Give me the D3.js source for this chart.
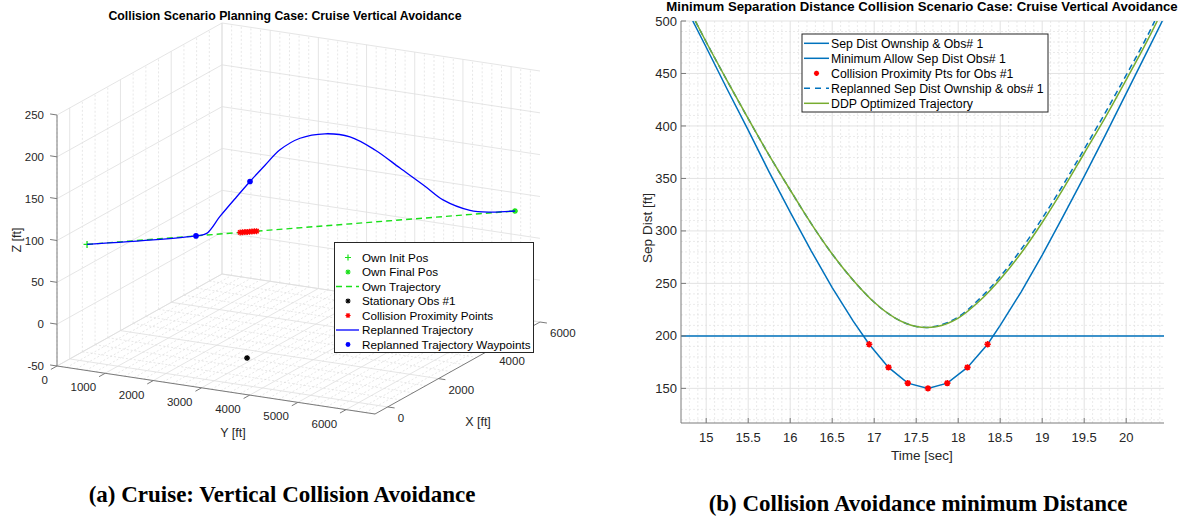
<!DOCTYPE html>
<html><head><meta charset="utf-8">
<script src="https://cdn.jsdelivr.net/npm/d3@7"></script>
<style>
html,body{margin:0;padding:0;background:#fff;}
svg{display:block;font-family:"Liberation Sans",Arial,Helvetica,sans-serif;}
</style></head><body>
<svg id="fig" width="1192" height="519"></svg>
<script>
// ---------- (a) 3-D cruise scenario: positions in ft ----------
const ownInit  = [0, 360, 90];
const ownFinal = [5450, 6370, 90];
const obstacle = [1540, 2870, -50];
const collisionX = [1950, 1980, 2010, 2040, 2070, 2100, 2130, 2160];
const collisionY = [2510, 2543, 2577, 2610, 2643, 2676, 2709, 2742];
const collisionZ = [90, 90, 90, 90, 90, 90, 90, 90];
const replanX = [0, 1388, 1524, 1693, 1906, 2075, 2267, 2457, 2712, 3031, 3349, 3668, 3986, 4304, 4534, 4877, 5132, 5450];
const replanY = [360, 1890, 2041, 2227, 2462, 2649, 2860, 3070, 3351, 3702, 4053, 4405, 4756, 5107, 5360, 5738, 6020, 6370];
const replanZ = [90, 90, 92, 111, 133, 150, 168, 185, 197, 200, 194, 176, 152, 128, 110, 95, 91, 90];
const waypointX = [1388, 2075];
const waypointY = [1890, 2649];
const waypointZ = [90, 150];
const xTickVals = [0, 2000, 4000, 6000];
const yTickVals = [0, 1000, 2000, 3000, 4000, 5000, 6000];
const zTickVals = [-50, 0, 50, 100, 150, 200, 250];

// ---------- (b) separation distance vs time ----------
const sepTime = [14.84, 15.0, 15.25, 15.5, 15.75, 16.0, 16.25, 16.5, 16.75, 16.94, 17.17, 17.40, 17.64, 17.87, 18.11, 18.35, 18.5, 18.75, 19.0, 19.25, 19.5, 19.75, 20.0, 20.25, 20.43];
const sepDist = [500, 475, 435, 396, 356, 318, 281, 246, 214, 192, 170, 155, 150, 155, 170, 192, 210, 242, 277, 314, 352, 391, 431, 471, 500];
const minAllowSep = 200;
const proxTime = [16.94, 17.17, 17.40, 17.64, 17.87, 18.11, 18.35];
const proxDist = [192, 170, 155, 150, 155, 170, 192];
const replanSepTime = [14.87, 15.0, 15.25, 15.5, 15.75, 16.0, 16.25, 16.5, 16.75, 17.0, 17.25, 17.5, 17.62, 17.75, 18.0, 18.25, 18.5, 18.75, 19.0, 19.25, 19.5, 19.75, 20.0, 20.25, 20.34];
const replanSepDist = [500, 480, 443, 407, 372, 339, 307, 278, 253, 232, 217, 209, 208, 209.5, 218, 235, 256.5, 282.5, 312, 344, 378, 412.5, 448.5, 485.5, 500];
const ddpTime = [14.87, 15.0, 15.25, 15.5, 15.75, 16.0, 16.25, 16.5, 16.75, 17.0, 17.25, 17.5, 17.62, 17.75, 18.0, 18.25, 18.5, 18.75, 19.0, 19.25, 19.5, 19.75, 20.0, 20.25, 20.37];
const ddpDist = [500, 480, 443, 407, 372, 339, 307, 278, 253, 232, 217, 209, 208, 209, 217, 233, 254, 279, 308, 340, 374, 408, 444, 481, 500];
const timeTicks = [15, 15.5, 16, 16.5, 17, 17.5, 18, 18.5, 19, 19.5, 20];
const distTicks = [150, 200, 250, 300, 350, 400, 450, 500];

const svg = d3.select("#fig");
const TXT = "#262626";

// marker shapes
function asterisk(r) {
  const d = r * 0.707;
  return `M${-r},0H${r}M0,${-r}V${r}M${-d},${-d}L${d},${d}M${-d},${d}L${d},${-d}`;
}
function plus(r) { return `M${-r},0H${r}M0,${-r}V${r}`; }

// =====================================================================
// Panel (a): oblique 3-D view built from three linear scales
// =====================================================================
const A = svg.append("g");
const fx = d3.scaleLinear().domain([-500, 6000]).range([0, 1]);
const fy = d3.scaleLinear().domain([0, 6600]).range([0, 1]);
const zPix = d3.scaleLinear().domain([-50, 250]).range([366, 115]);
const ORIGIN_X = 57;
const VX = [165, -92], VY = [318, 48];
function proj(X, Y, Z) {
  const a = fx(X), b = fy(Y);
  return [ORIGIN_X + a * VX[0] + b * VY[0], zPix(Z) + a * VX[1] + b * VY[1]];
}
const [X0, X1] = fx.domain(), [Y0, Y1] = fy.domain(), [Z0, Z1] = zPix.domain();

function seg(g, p, q) {
  return g.append("line").attr("x1", p[0]).attr("y1", p[1]).attr("x2", q[0]).attr("y2", q[1]);
}

const gridMinor = A.append("g").attr("stroke", "#d6d6d6").attr("stroke-width", 0.6).attr("stroke-dasharray", "2,2");
const gridMajor = A.append("g").attr("stroke", "#dedede").attr("stroke-width", 0.8);

const xMinor = d3.range(-500, 6001, 500).filter(v => !xTickVals.includes(v));
const yMinor = d3.range(200, 6600, 200).filter(v => !yTickVals.includes(v));

// floor (Z = min)
xMinor.forEach(x => seg(gridMinor, proj(x, Y0, Z0), proj(x, Y1, Z0)));
yMinor.forEach(y => seg(gridMinor, proj(X0, y, Z0), proj(X1, y, Z0)));
xTickVals.forEach(x => seg(gridMajor, proj(x, Y0, Z0), proj(x, Y1, Z0)));
yTickVals.forEach(y => seg(gridMajor, proj(X0, y, Z0), proj(X1, y, Z0)));
// back wall Y = min
xMinor.forEach(x => seg(gridMinor, proj(x, Y0, Z0), proj(x, Y0, Z1)));
xTickVals.forEach(x => seg(gridMajor, proj(x, Y0, Z0), proj(x, Y0, Z1)));
zTickVals.forEach(z => seg(gridMajor, proj(X0, Y0, z), proj(X1, Y0, z)));
// back wall X = max
yMinor.forEach(y => seg(gridMinor, proj(X1, y, Z0), proj(X1, y, Z1)));
yTickVals.forEach(y => seg(gridMajor, proj(X1, y, Z0), proj(X1, y, Z1)));
zTickVals.forEach(z => seg(gridMajor, proj(X1, Y0, z), proj(X1, Y1, z)));

// axis lines and ticks
const axA = A.append("g").attr("stroke", "#7a7a7a").attr("stroke-width", 1);
seg(axA, proj(X0, Y0, Z0), proj(X0, Y0, Z1));
seg(axA, proj(X0, Y0, Z0), proj(X0, Y1, Z0));
seg(axA, proj(X0, Y1, Z0), proj(X1, Y1, Z0));
const nVX = [VX[0] / Math.hypot(...VX), VX[1] / Math.hypot(...VX)];
const nVY = [VY[0] / Math.hypot(...VY), VY[1] / Math.hypot(...VY)];
const TL = 7;
zTickVals.forEach(z => { const p = proj(X0, Y0, z); seg(axA, p, [p[0] - TL * nVY[0], p[1] - TL * nVY[1]]); });
yTickVals.forEach(y => { const p = proj(X0, y, Z0); seg(axA, p, [p[0] - TL * nVX[0], p[1] - TL * nVX[1]]); });
xTickVals.forEach(x => { const p = proj(x, Y1, Z0); seg(axA, p, [p[0] + TL * nVY[0], p[1] + TL * nVY[1]]); });

const labA = A.append("g").attr("fill", TXT).attr("font-size", 11.5);
zTickVals.forEach(z => {
  const p = proj(X0, Y0, z);
  labA.append("text").attr("x", 44).attr("y", p[1]).attr("dy", "0.35em").attr("text-anchor", "end").text(z);
});
yTickVals.forEach(y => {
  const p = proj(X0, y, Z0);
  labA.append("text").attr("x", p[0] - 9).attr("y", p[1] + 14).attr("dy", "0.35em").attr("text-anchor", "end").text(y);
});
xTickVals.forEach(x => {
  const p = proj(x, Y1, Z0);
  labA.append("text").attr("x", p[0] + 10).attr("y", p[1] + 11).attr("dy", "0.35em").attr("text-anchor", "start").text(x);
});
labA.append("text").attr("transform", "translate(17,240) rotate(-90)").attr("text-anchor", "middle").attr("dy", "0.35em").attr("font-size", 12.5).text("Z [ft]");
labA.append("text").attr("x", 233).attr("y", 433).attr("text-anchor", "middle").attr("dy", "0.35em").attr("font-size", 12.5).text("Y [ft]");
labA.append("text").attr("x", 478).attr("y", 422).attr("text-anchor", "middle").attr("dy", "0.35em").attr("font-size", 12.5).text("X [ft]");
A.append("text").attr("x", 285).attr("y", 16).attr("dy", "0.35em").attr("text-anchor", "middle")
  .attr("font-weight", "bold").attr("font-size", 12.3).attr("fill", "#000")
  .text("Collision Scenario Planning Case: Cruise Vertical Avoidance");

// data marks
const GREEN = "#19e019", BLUE = "#0000ff";
const pInit = proj(...ownInit), pFinal = proj(...ownFinal);
A.append("line").attr("x1", pInit[0]).attr("y1", pInit[1]).attr("x2", pFinal[0]).attr("y2", pFinal[1])
  .attr("stroke", GREEN).attr("stroke-width", 1.4).attr("stroke-dasharray", "6,4");
A.append("path").attr("transform", `translate(${pInit})`).attr("d", plus(3.5)).attr("stroke", GREEN).attr("stroke-width", 1.3);
A.append("path").attr("transform", `translate(${pFinal})`).attr("d", asterisk(3)).attr("stroke", GREEN).attr("stroke-width", 1.3);
const pObs = proj(...obstacle);
A.append("path").attr("transform", `translate(${pObs})`).attr("d", asterisk(3)).attr("stroke", "#000").attr("stroke-width", 1.3);
collisionX.forEach((x, i) => {
  const p = proj(x, collisionY[i], collisionZ[i]);
  A.append("path").attr("transform", `translate(${p})`).attr("d", asterisk(3)).attr("stroke", "#ff0000").attr("stroke-width", 1.3);
});
const replanPts = replanX.map((x, i) => proj(x, replanY[i], replanZ[i]));
A.append("path").attr("d", d3.line().curve(d3.curveCatmullRom.alpha(0.5))(replanPts))
  .attr("fill", "none").attr("stroke", BLUE).attr("stroke-width", 1.3);
waypointX.forEach((x, i) => {
  const p = proj(x, waypointY[i], waypointZ[i]);
  A.append("circle").attr("cx", p[0]).attr("cy", p[1]).attr("r", 2.8).attr("fill", BLUE);
});

// legend (a)
const legA = A.append("g").attr("font-size", 11.7).attr("fill", "#000");
legA.append("rect").attr("x", 334.5).attr("y", 242.5).attr("width", 199).attr("height", 110)
  .attr("fill", "#fff").attr("stroke", "#262626").attr("stroke-width", 1);
const legAItems = [
  {label: "Own Init Pos", kind: "plus", color: GREEN},
  {label: "Own Final Pos", kind: "ast", color: GREEN},
  {label: "Own Trajectory", kind: "dash", color: GREEN},
  {label: "Stationary Obs #1", kind: "ast", color: "#000"},
  {label: "Collision Proximity Points", kind: "ast", color: "#ff0000"},
  {label: "Replanned Trajectory", kind: "line", color: BLUE},
  {label: "Replanned Trajectory Waypoints", kind: "dot", color: BLUE}
];
legAItems.forEach((d, i) => {
  const y = 257.5 + i * 14.5;
  if (d.kind === "plus") legA.append("path").attr("transform", `translate(348,${y})`).attr("d", plus(3)).attr("stroke", d.color).attr("stroke-width", 1.2);
  if (d.kind === "ast") legA.append("path").attr("transform", `translate(348,${y})`).attr("d", asterisk(2.6)).attr("stroke", d.color).attr("stroke-width", 1.2);
  if (d.kind === "dot") legA.append("circle").attr("cx", 348).attr("cy", y).attr("r", 2.4).attr("fill", d.color);
  if (d.kind === "dash") legA.append("line").attr("x1", 336).attr("x2", 359).attr("y1", y).attr("y2", y).attr("stroke", d.color).attr("stroke-width", 1.3).attr("stroke-dasharray", "6,4");
  if (d.kind === "line") legA.append("line").attr("x1", 336).attr("x2", 359).attr("y1", y).attr("y2", y).attr("stroke", d.color).attr("stroke-width", 1.3);
  legA.append("text").attr("x", 362).attr("y", y).attr("dy", "0.35em").text(d.label);
});

// =====================================================================
// Panel (b): separation distance
// =====================================================================
const B = svg.append("g");
const L = 681, R = 1164, T = 21, Bt = 423;
const tx = d3.scaleLinear().domain([14.70, 20.45]).range([L, R]);
const dy = d3.scaleLinear().domain([117, 500]).range([Bt, T]);

const gMin = B.append("g").attr("stroke", "#dcdcdc").attr("stroke-width", 0.6).attr("stroke-dasharray", "2,2");
d3.range(148, 205).map(v => v / 10).filter(v => Math.abs(v * 2 - Math.round(v * 2)) > 1e-6)
  .forEach(t => seg(gMin, [tx(t), T], [tx(t), Bt]));
d3.range(120, 500, 10).filter(v => v % 50 !== 0)
  .forEach(v => seg(gMin, [L, dy(v)], [R, dy(v)]));
const gMaj = B.append("g").attr("stroke", "#e0e0e0").attr("stroke-width", 0.9);
timeTicks.forEach(t => seg(gMaj, [tx(t), T], [tx(t), Bt]));
distTicks.forEach(v => seg(gMaj, [L, dy(v)], [R, dy(v)]));

B.append("defs").append("clipPath").attr("id", "plotB").append("rect")
  .attr("x", L).attr("y", T).attr("width", R - L).attr("height", Bt - T);
const plotB = B.append("g").attr("clip-path", "url(#plotB)");
const lineB = (xs, ys, curve) => d3.line().x((d, i) => tx(xs[i])).y((d, i) => dy(ys[i])).curve(curve)(xs);

const C_BLUE = "#0072BD", C_GREEN = "#77AC30";
plotB.append("path").attr("d", lineB(sepTime, sepDist, d3.curveLinear))
  .attr("fill", "none").attr("stroke", C_BLUE).attr("stroke-width", 1.5);
plotB.append("line").attr("x1", L).attr("x2", R).attr("y1", dy(minAllowSep)).attr("y2", dy(minAllowSep))
  .attr("stroke", C_BLUE).attr("stroke-width", 1.5);
proxTime.forEach((t, i) => {
  plotB.append("path").attr("transform", `translate(${tx(t)},${dy(proxDist[i])})`).attr("d", asterisk(3.2))
    .attr("stroke", "#ff0000").attr("stroke-width", 1.6);
});
plotB.append("path").attr("d", lineB(replanSepTime, replanSepDist, d3.curveMonotoneX))
  .attr("fill", "none").attr("stroke", C_BLUE).attr("stroke-width", 1.5).attr("stroke-dasharray", "6,4");
plotB.append("path").attr("d", lineB(ddpTime, ddpDist, d3.curveMonotoneX))
  .attr("fill", "none").attr("stroke", C_GREEN).attr("stroke-width", 1.5);

// axes (b)
const axB = B.append("g").attr("stroke", "#7a7a7a").attr("stroke-width", 1);
seg(axB, [L, T], [L, Bt]);
seg(axB, [L, Bt], [R, Bt]);
timeTicks.forEach(t => seg(axB, [tx(t), Bt], [tx(t), Bt - 5]));
distTicks.forEach(v => seg(axB, [L, dy(v)], [L + 5, dy(v)]));
const labB = B.append("g").attr("fill", TXT).attr("font-size", 13);
distTicks.forEach(v => labB.append("text").attr("x", L - 4).attr("y", dy(v)).attr("dy", "0.35em").attr("text-anchor", "end").text(v));
timeTicks.forEach(t => labB.append("text").attr("x", tx(t)).attr("y", 437).attr("dy", "0.35em").attr("text-anchor", "middle").text(t));
labB.append("text").attr("x", 922).attr("y", 455).attr("dy", "0.35em").attr("text-anchor", "middle").attr("font-size", 13.5).text("Time [sec]");
labB.append("text").attr("transform", "translate(647,228) rotate(-90)").attr("dy", "0.35em").attr("text-anchor", "middle").attr("font-size", 13.5).text("Sep Dist [ft]");
B.append("text").attr("x", 922).attr("y", 6.3).attr("dy", "0.35em").attr("text-anchor", "middle")
  .attr("font-weight", "bold").attr("font-size", 13.2).attr("fill", "#000")
  .text("Minimum Separation Distance Collision Scenario Case: Cruise Vertical Avoidance");

// legend (b)
const legB = B.append("g").attr("font-size", 12.3).attr("fill", "#000");
legB.append("rect").attr("x", 802).attr("y", 34).attr("width", 246).attr("height", 78)
  .attr("fill", "#fff").attr("stroke", "#262626").attr("stroke-width", 1);
const legBItems = [
  {label: "Sep Dist Ownship & Obs# 1", kind: "line", color: C_BLUE},
  {label: "Minimum Allow Sep Dist Obs# 1", kind: "line", color: C_BLUE},
  {label: "Collision Proximity Pts for Obs #1", kind: "ast", color: "#ff0000"},
  {label: "Replanned Sep Dist Ownship & obs# 1", kind: "dash", color: C_BLUE},
  {label: "DDP Optimized Trajectory", kind: "line", color: C_GREEN}
];
legBItems.forEach((d, i) => {
  const y = 43.3 + i * 15;
  if (d.kind === "line") legB.append("line").attr("x1", 804).attr("x2", 829).attr("y1", y).attr("y2", y).attr("stroke", d.color).attr("stroke-width", 1.5);
  if (d.kind === "dash") legB.append("line").attr("x1", 804).attr("x2", 829).attr("y1", y).attr("y2", y).attr("stroke", d.color).attr("stroke-width", 1.5).attr("stroke-dasharray", "6,5");
  if (d.kind === "ast") legB.append("path").attr("transform", `translate(816.5,${y})`).attr("d", asterisk(2.6)).attr("stroke", d.color).attr("stroke-width", 1.5);
  legB.append("text").attr("x", 831).attr("y", y).attr("dy", "0.35em").text(d.label);
});

// ---------- sub-figure captions ----------
const cap = svg.append("g").attr("font-family", "'Liberation Serif','Times New Roman',serif")
  .attr("font-weight", "bold").attr("font-size", 23).attr("fill", "#000").attr("text-anchor", "middle");
cap.append("text").attr("x", 282).attr("y", 502).text("(a) Cruise: Vertical Collision Avoidance");
cap.append("text").attr("x", 918).attr("y", 511).text("(b) Collision Avoidance minimum Distance");
</script>
</body></html>
